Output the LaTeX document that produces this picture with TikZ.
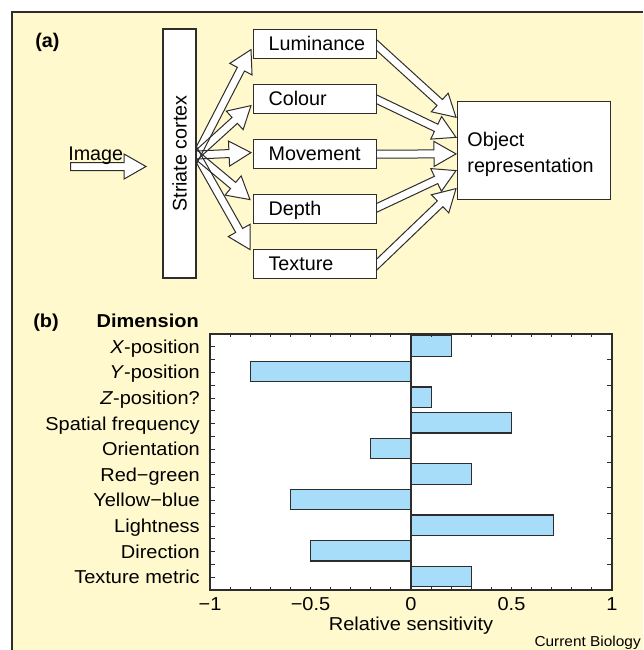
\documentclass[tikz,border=0pt]{standalone}
\usepackage{fontspec}
\usepackage{graphicx}
\setmainfont{Liberation Sans}
\newfontfamily\bfam{Liberation Sans}[FakeStretch=1.07]
\usetikzlibrary{calc}
\definecolor{bgyellow}{RGB}{255,249,205}
\definecolor{barblue}{RGB}{168,221,249}
\definecolor{linegray}{RGB}{45,45,45}
\pgfdeclarelayer{bg}
\pgfdeclarelayer{arrows}
\pgfsetlayers{bg,arrows,main}
% hollow block arrow: #1 style, #2 from, #3 to
\newcommand\harrow[3]{%
  \path (#2) coordinate (st) (#3) coordinate (tp);
  \path ($(tp)!16.5pt!(st)$) coordinate (hb);
  \path[#1] ($(st)!3pt!90:(tp)$) -- ($(hb)!3pt!90:(tp)$) -- ($(hb)!9.4pt!90:(tp)$) -- (tp)
    -- ($(hb)!9.4pt!-90:(tp)$) -- ($(hb)!3pt!-90:(tp)$) -- ($(st)!3pt!-90:(tp)$) -- cycle;}
\begin{document}
\begin{tikzpicture}[x=0.75pt,y=-0.75pt,
  afont/.style={font=\fontsize{14.8}{17}\selectfont},
  box/.style={draw=linegray, line width=0.9pt, fill=white, inner sep=0pt},
  featbox/.style={box, anchor=north west, minimum width=92.25pt, minimum height=21.75pt,
    text width=69.75pt, inner xsep=11.25pt, align=left, text height=10.6pt, text depth=0.6pt, afont},
  arrfill/.style={fill=white},
  arrline/.style={draw=linegray, line width=0.75pt, line join=miter},
  arrboth/.style={fill=white, draw=linegray, line width=0.75pt, line join=miter},
  lab/.style={font=\bfam\fontsize{14}{16}\selectfont, inner sep=0pt},
  bar/.style={fill=barblue, draw=linegray, line width=0.9pt},
  tick/.style={draw=linegray, line width=0.7pt},
  ]
\useasboundingbox (0,0) rectangle (643,650);
\begin{pgfonlayer}{bg}
  \fill[white] (0,0) rectangle (643,650);
  \fill[bgyellow] (12,12) rectangle (643,650);
  \draw[linegray, line width=1pt] (12,650) -- (12,12) -- (643,12);
\end{pgfonlayer}

% ---------- (a) ----------
\node[font=\bfseries\fontsize{14.8}{17}\selectfont, anchor=base west, inner sep=0pt] (la) at (35,47) {(a)};
\node[box, minimum width=24.75pt, minimum height=186.75pt, afont] (sc) at (179.5,153.5) {\rotatebox{90}{Striate cortex}};
\node[featbox] (lum) at (253,29) {Luminance};
\node[featbox] (col) at (253,84) {Colour};
\node[featbox] (mov) at (253,139) {Movement};
\node[featbox] (dep) at (253,194) {Depth};
\node[featbox] (tex) at (253,249) {Texture};
\node[box, anchor=north west, minimum width=114.75pt, minimum height=73.5pt, text width=100pt,
  inner xsep=7.35pt, align=left, text height=10.6pt, text depth=16.6pt,
  font=\fontsize{14.8}{19.3}\selectfont] (obj) at (457,101) {Object\\representation};
\node[afont, anchor=base west, inner sep=0pt] (img) at (68,160) {Image};
\coordinate (imgtail) at (70.7,166.5);
\coordinate (imgtip) at (146,166.5);
\coordinate (fo) at ($(sc.east)+(0,1.5)$);
\coordinate (t1) at ($(lum.west)+(-2,5.5)$);
\coordinate (t2) at ($(col.west)+(-2,6.5)$);
\coordinate (t3) at ($(mov.west)+(-2,-1.5)$);
\coordinate (t4) at ($(dep.west)+(-3,-9.5)$);
\coordinate (t5) at ($(tex.west)+(-3,-14.5)$);
\coordinate (s1) at ($(lum.east)+(0,1.5)$);
\coordinate (s2) at ($(col.east)+(0,0.5)$);
\coordinate (s3) at ($(mov.east)+(0,0)$);
\coordinate (s4) at ($(dep.east)+(0,-1.5)$);
\coordinate (s5) at ($(tex.east)+(0,0)$);
\coordinate (e1) at ($(obj.west)+(-1,-33.3)$);
\coordinate (e2) at ($(obj.west)+(-1,-13.3)$);
\coordinate (e3) at ($(obj.west)+(-1,3.3)$);
\coordinate (e4) at ($(obj.west)+(-1,20)$);
\coordinate (e5) at ($(obj.west)+(-1,38)$);

\begin{pgfonlayer}{arrows}
  \harrow{arrboth}{imgtail}{imgtip}
  \foreach \k in {1,...,5} {\harrow{arrfill}{$(fo)!-10pt!(t\k)$}{t\k}}
  \foreach \k in {1,...,5} {\harrow{arrline}{$(fo)!-10pt!(t\k)$}{t\k}}
  \foreach \k in {1,...,5} {\harrow{arrboth}{$(s\k)!-10pt!(e\k)$}{e\k}}
\end{pgfonlayer}

% ---------- (b) ----------
\node[font=\bfam\bfseries\fontsize{14}{16}\selectfont, anchor=base west, inner sep=0pt] (lb) at (33,327.5) {(b)};
\node[font=\bfam\bfseries\fontsize{14}{16}\selectfont, anchor=base east, inner sep=0pt] (dim) at (199,327.5) {Dimension};

\begin{scope}[shift={(411,334)}, x=150.75pt, y=-19.2pt]
  \fill[white] (-1,0) rectangle (1,10);
  \foreach \v [count=\i from 0] in {0.2,-0.8,0.1,0.5,-0.2,0.3,-0.6,0.71,-0.5,0.3}
    \draw[bar] (0,\i+0.07) rectangle (\v,\i+0.87);
  \draw[tick, line width=0.9pt] (0,0) -- (0,10);
  \foreach \t in {-0.9,-0.8,...,0.95} {
    \draw[tick] (\t,0) -- ++(0pt,-2.5pt);
    \draw[tick] (\t,10) -- ++(0pt,2.5pt);
  }
  \foreach \k in {1,...,19} \draw[tick] (-1,\k/2) -- ++(3.75pt,0pt);
  \foreach \k in {1,...,9} \draw[tick] (1,\k) -- ++(-4pt,0pt);
  \draw[linegray, line width=1pt] (-1,0) rectangle (1,10);
  \foreach \v/\t [count=\j] in {-1/−1,-0.5/−0.5,0/0,0.5/0.5,1/1}
    \node[lab, anchor=base] (tk\j) at ([yshift=-15.4pt]\v,10) {\t};
\end{scope}

\foreach \n [count=\i from 0] in {{\textit{X}-position},{\textit{Y}-position},{\textit{Z}-position?},
    {Spatial frequency},{Orientation},{Red−green},{Yellow−blue},{Lightness},{Direction},{Texture metric}}
  \node[lab, anchor=base east] (cat\i) at (200,{353.3+25.6*\i}) {\n};

\node[lab, anchor=base] (xlab) at (411,630) {Relative sensitivity};
\node[font=\bfam\fontsize{10.8}{12}\selectfont, anchor=base east, inner sep=0pt] (cb) at (641,646) {Current Biology};
\end{tikzpicture}
\end{document}
